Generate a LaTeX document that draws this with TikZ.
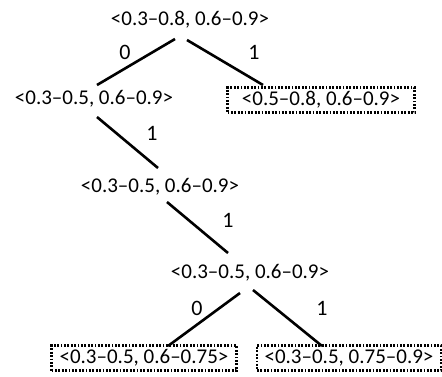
\documentclass[tikz,border=0pt]{standalone}
\usepackage{fontspec}
\setmainfont{Carlito}
\begin{document}
\begin{tikzpicture}[x=0.5pt,y=-0.5pt,
  lbl/.style={font=\fontsize{10.5}{12}\selectfont, inner sep=0pt},
  leaf/.style={lbl, draw, dash pattern=on 0.9pt off 0.8pt, line width=1.2pt, minimum height=12.5pt},
  edge/.style={line width=1.3pt},
  bit/.style={font=\fontsize{11}{12}\selectfont, inner sep=0pt}]
\useasboundingbox (0,0) rectangle (442,376);
\node[lbl] (root) at (190,20) {<0.3–0.8, 0.6–0.9>};
\node[lbl] (l1) at (94,99) {<0.3–0.5, 0.6–0.9>};
\node[leaf, minimum width=93.5pt] (r1) at (321,100) {<0.5–0.8, 0.6–0.9>};
\node[lbl] (m2) at (160,187) {<0.3–0.5, 0.6–0.9>};
\node[lbl] (m3) at (250,273) {<0.3–0.5, 0.6–0.9>};
\node[leaf, minimum width=92.5pt] (ll) at (144,358) {<0.3–0.5, 0.6–0.75>};
\node[leaf, minimum width=92pt] (lr) at (349,358) {<0.3–0.5, 0.75–0.9>};
\draw[edge] ([shift={(-15,19)}]root.center) -- ([shift={(3,-14)}]l1.center);
\draw[edge] ([shift={(-3,20)}]root.center) -- ([shift={(-58,-15)}]r1.center);
\draw[edge] ([shift={(3,18)}]l1.center) -- ([shift={(-2,-19)}]m2.center);
\draw[edge] ([shift={(7,15)}]m2.center) -- ([shift={(-22,-20)}]m3.center);
\draw[edge] ([shift={(-10,20)}]m3.center) -- ([shift={(24,-12)}]ll.center);
\draw[edge] ([shift={(3,17)}]m3.center) -- ([shift={(-27,-12)}]lr.center);
\node[bit] (b1) at (125,52) {0};
\node[bit] (b2) at (254,52) {1};
\node[bit] (b3) at (152,133) {1};
\node[bit] (b4) at (228,220) {1};
\node[bit] (b5) at (197,308) {0};
\node[bit] (b6) at (322,308) {1};
\end{tikzpicture}
\end{document}
